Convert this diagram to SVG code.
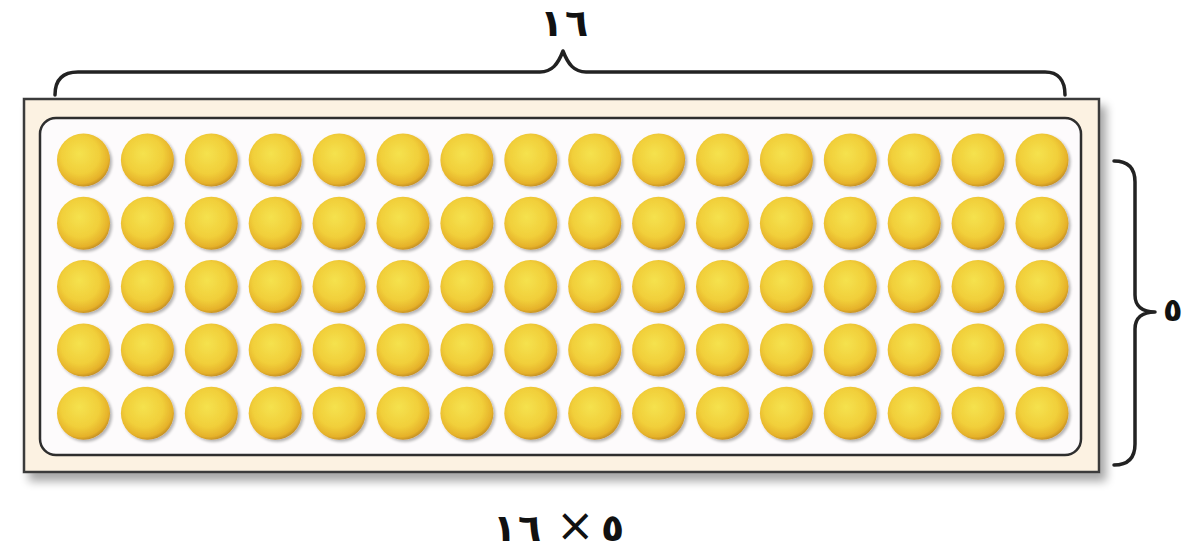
<svg xmlns="http://www.w3.org/2000/svg" width="1184" height="557" viewBox="0 0 1184 557">
<defs>
<radialGradient id="ball" cx="0.45" cy="0.42" r="0.6" fx="0.42" fy="0.38">
<stop offset="0" stop-color="#f5e24e"/>
<stop offset="0.6" stop-color="#f1cf3a"/>
<stop offset="0.88" stop-color="#e6b22a"/>
<stop offset="1" stop-color="#c08a22"/>
</radialGradient>
<filter id="shadow" x="-5%" y="-10%" width="115%" height="130%">
<feGaussianBlur in="SourceAlpha" stdDeviation="5"/>
<feOffset dx="6" dy="8"/>
<feComponentTransfer><feFuncA type="linear" slope="0.35"/></feComponentTransfer>
<feMerge><feMergeNode/><feMergeNode in="SourceGraphic"/></feMerge>
</filter>
<filter id="bshadow" x="-20%" y="-20%" width="150%" height="150%">
<feGaussianBlur in="SourceAlpha" stdDeviation="1.5"/>
<feOffset dx="1.5" dy="2"/>
<feComponentTransfer><feFuncA type="linear" slope="0.3"/></feComponentTransfer>
<feMerge><feMergeNode/><feMergeNode in="SourceGraphic"/></feMerge>
</filter>
<g id="row">
<circle cx="83.5" cy="0" r="26.5"/><circle cx="147.4" cy="0" r="26.5"/><circle cx="211.3" cy="0" r="26.5"/><circle cx="275.2" cy="0" r="26.5"/>
<circle cx="339.1" cy="0" r="26.5"/><circle cx="403" cy="0" r="26.5"/><circle cx="466.9" cy="0" r="26.5"/><circle cx="530.8" cy="0" r="26.5"/>
<circle cx="594.7" cy="0" r="26.5"/><circle cx="658.6" cy="0" r="26.5"/><circle cx="722.5" cy="0" r="26.5"/><circle cx="786.4" cy="0" r="26.5"/>
<circle cx="850.3" cy="0" r="26.5"/><circle cx="914.2" cy="0" r="26.5"/><circle cx="978.1" cy="0" r="26.5"/><circle cx="1042" cy="0" r="26.5"/>
</g>
</defs>
<style>
.brace{fill:none;stroke:#222;stroke-width:3.5;stroke-linecap:round;stroke-linejoin:round}
.lbl{font-family:"DejaVu Sans","Noto Sans",sans-serif;font-size:38px;font-weight:bold;fill:#111;text-anchor:start}
</style>
<rect width="1184" height="557" fill="#ffffff"/>
<g id="tray">
<rect x="24" y="99" width="1075" height="373" fill="#fcf2e2" stroke="#3a3a3a" stroke-width="2.5" filter="url(#shadow)"/>
<rect x="40" y="118" width="1041" height="337" rx="16" fill="#fdfbfc" stroke="#2e2e2e" stroke-width="2.5"/>
</g>
<g id="balls" fill="url(#ball)" filter="url(#bshadow)">
<use href="#row" y="160"/>
<use href="#row" y="223.3"/>
<use href="#row" y="286.6"/>
<use href="#row" y="349.9"/>
<use href="#row" y="413.2"/>
</g>
<g id="connectors">
<path class="brace" d="M55,95 C55,80 62,72 78,72 L540,72 C552,72 558,64 563,51 C568,64 574,72 586,72 L1045,72 C1058,72 1065,80 1065,95"/>
<path class="brace" d="M1114,161 C1128,161 1135,168 1135,182 L1135,295 C1135,306 1142,312 1155,312 C1142,312 1135,318 1135,329 L1135,444 C1135,458 1128,465 1114,465"/>
</g>
<g id="labels">
<text class="lbl" x="540" y="36">١<tspan x="565">٦</tspan></text>
<text class="lbl" x="1163" y="321" style="font-size:32px">٥</text>
<text class="lbl" x="493" y="541">١<tspan x="518">٦</tspan></text>
<text class="lbl" x="556" y="541" style="font-size:46px;font-weight:normal">×</text>
<text class="lbl" x="601" y="541">٥</text>
</g>
</svg>
